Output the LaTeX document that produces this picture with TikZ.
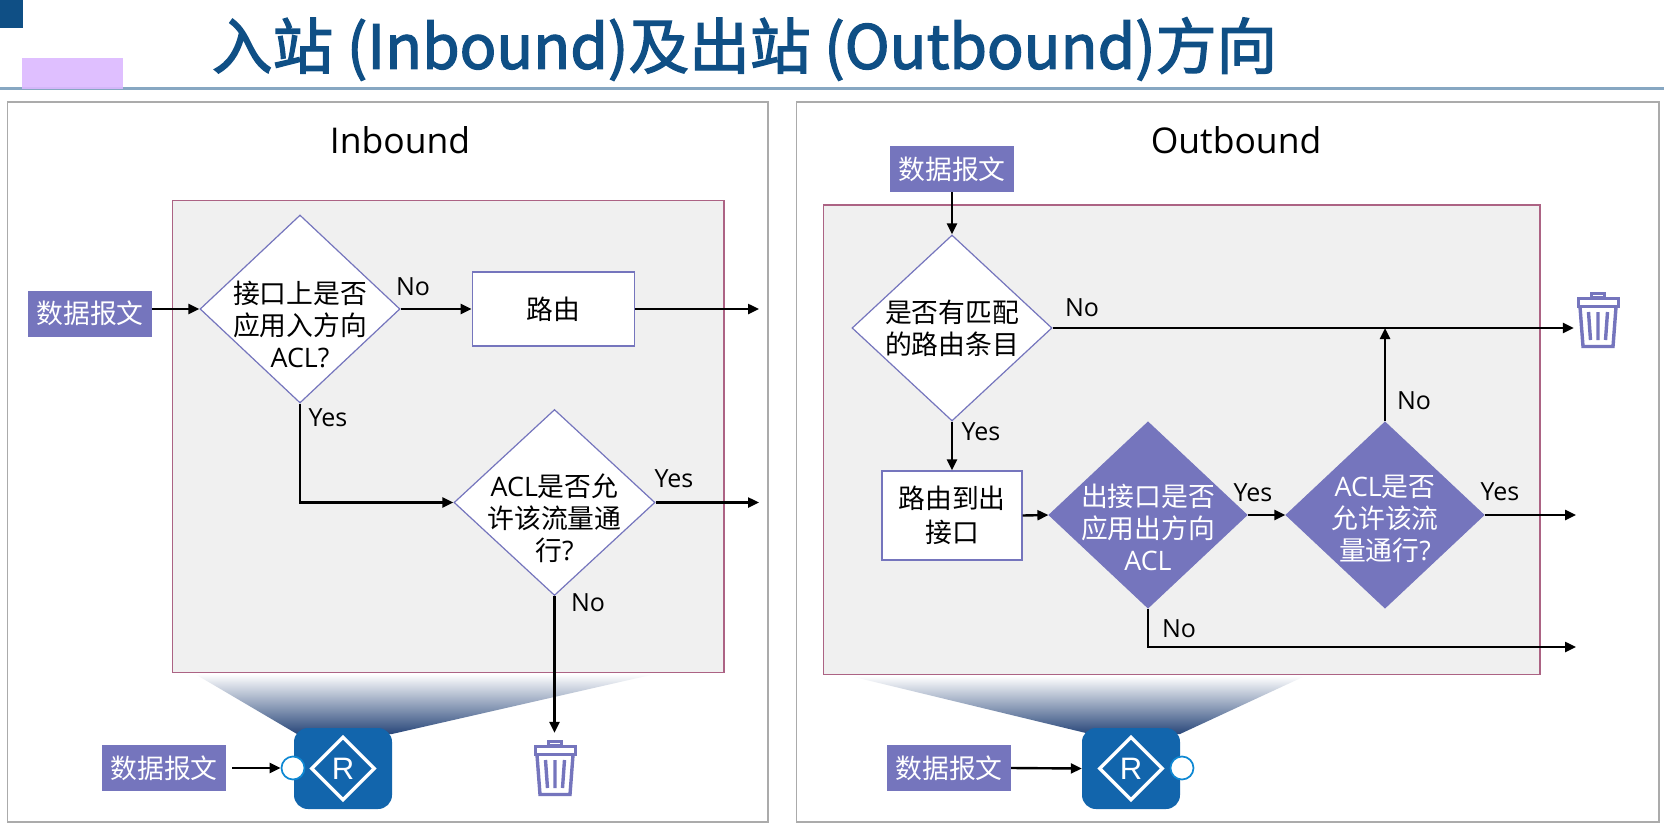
\documentclass[tikz,border=0pt]{standalone}
\usepackage{fontspec}
\usepackage{tikz}
\usepackage{xcolor}
\usetikzlibrary{positioning,arrows.meta,shapes.geometric}
\setmainfont{Open Sans}
\newfontfamily\cjk{Noto Sans CJK SC}
\newfontfamily\cjkm[FakeBold=2.2]{Noto Sans CJK SC}
\newfontfamily\arl{Liberation Sans}
\definecolor{navy}{HTML}{0F4F85}
\definecolor{lilac}{HTML}{7575BD}
\definecolor{edge}{HTML}{AC6384}
\definecolor{rblue}{HTML}{1265AC}
\definecolor{fdark}{HTML}{29477A}
\definecolor{tab}{HTML}{DCB8FF}
\definecolor{zonegray}{HTML}{F0F0F0}

\begin{document}
\begin{tikzpicture}[
  x=1pt, y=-1pt,
  font=\fontsize{25}{33}\selectfont,
  panel/.style={draw=black!33, line width=1.6pt, fill=white},
  zone/.style={draw=edge, line width=1.3pt, fill=zonegray},
  pkt/.style={fill=lilac, text=white, minimum width=124pt, minimum height=46pt,
              inner sep=0pt, font=\fontsize{26.8}{33}\selectfont\cjk},
  box/.style={draw=lilac, line width=1.2pt, fill=white, align=center, inner sep=0pt,
              font=\fontsize{26.8}{33.5}\selectfont\cjk},
  dec/.style={diamond, draw=lilac, line width=1.2pt, fill=white, inner sep=0pt},
  decfill/.style={dec, fill=lilac},
  lab/.style={align=center, inner sep=0pt, font=\fontsize{26.8}{32}\selectfont},
  to/.style={-{Triangle[length=11pt,width=10pt]}, line width=2.4pt},
  ttl/.style={font=\fontsize{35.5}{40}\selectfont},
  funnel/.style={top color=white, bottom color=fdark},
  rtr/.style={fill=rblue, rounded corners=14pt, minimum width=98pt, minimum height=81pt},
  rmark/.style={diamond, draw=white, line width=3.4pt, minimum width=64pt, minimum height=64pt,
                inner sep=0pt, text=white, font=\fontsize{31}{32}\selectfont\arl},
  port/.style={circle, draw=cyan!70!blue, line width=1.7pt, fill=white, minimum size=23pt, inner sep=0pt},
  binbox/.style={minimum width=44pt, minimum height=56pt, inner sep=0pt},
  trash/.pic={
    \draw[lilac, line width=3pt] (-6.5,-23) rectangle (6.5,-27);
    \draw[lilac, line width=3pt] (-20,-22) rectangle (20,-14);
    \draw[lilac, line width=3.4pt] (-18,-13) -- (-15,26.5) -- (15,26.5) -- (18,-13);
    \draw[lilac, line width=3.4pt] (-9.5,-8) -- (-7.5,20) (0,-8) -- (0,20) (9.5,-8) -- (7.5,20);
  }]

\useasboundingbox (0,0) rectangle (1664,830);

\fill[navy] (0,0) rectangle (23,28);
\draw[navy!50!white, line width=2.4pt] (0,88.5) -- (1664,88.5);
\fill[tab, opacity=.9] (22,58) rectangle (123,89);
\node[navy, font=\fontsize{60.7}{64}\selectfont\cjkm] (title) at (744.5,49)
  {入站 (Inbound)及出站 (Outbound)方向};

\draw[panel] (7.5,102) rectangle (768,822);
\draw[panel] (796.5,102) rectangle (1659,822);
\node[ttl] (ttl1) at (400,140) {Inbound};
\node[ttl] (ttl2) at (1236,140) {Outbound};

\draw[zone] (172.5,200.5) rectangle (724,672.5);
\draw[zone] (823.5,205) rectangle (1540,674.5);
\shade[funnel] (195,674) -- (655,674) -- (392,734) -- (297,734) -- cycle;
\shade[funnel] (850,676) -- (1305,676) -- (1180,734) -- (1090,734) -- cycle;

\node[pkt] (pkt1) at (90,313.5) {数据报文};
\node[dec, minimum width=200pt, minimum height=188pt,
      label={[lab,yshift=-15pt]center:{{\cjk 接口上是否}\\{\cjk 应用入方向}\\ACL?}}] (d1) at (300,309) {};
\node[box, right=71pt of d1, minimum width=162pt, minimum height=74pt] (route) {路由};
\node[dec, minimum width=201pt, minimum height=186pt,
      label={[lab,yshift=-16pt]center:{ACL{\cjk 是否允}\\{\cjk 许该流量通}\\{\cjk 行}?}}] (d2) at (554.5,502.5) {};
\coordinate (out1) at (759,309);
\coordinate (out2) at (759,502.5);
\node[binbox] (bin1) at (555,768) {};
\pic at (bin1) {trash};

\draw[to] (pkt1.east |- d1.west) -- (d1.west);
\draw[to] (d1.east) -- (route.west);
\draw[to] (route.east) -- (out1);
\draw[to] (d1.south) |- (d2.west);
\draw[to] (d2.east) -- (out2);
\draw[to, shorten >=7pt] (d2.south) -- (d2.south |- bin1.north);

\node (no1) at (413,287) {No};
\node (yes1) at (328,418) {Yes};
\node (yes2) at (674,479) {Yes};
\node (no2) at (588,603) {No};

\node[pkt] (pkt2) at (164,768) {数据报文};
\node[rtr] (rt1) at (343,768.5) {};
\node[rmark] (rm1) at (rt1) {R};
\node[port] (port1) at (293,768) {};
\draw[to, shorten <=6pt] (pkt2.east) -- (port1.west);

\node[pkt] (pkt3) at (952,169) {数据报文};
\node[dec, minimum width=200pt, minimum height=186pt,
      label={[lab]center:{{\cjk 是否有匹配}\\{\cjk 的路由条目}}}] (d3) at (952,328) {};
\node[box, minimum width=140pt, minimum height=89pt] (exit) at (952,515.5)
  {路由到出\\接口};
\node[decfill, minimum width=198pt, minimum height=186pt,
      label={[lab,text=white,yshift=-12pt]center:{{\cjk 出接口是否}\\{\cjk 应用出方向}\\ACL}}] (d4) at (1148,515) {};
\node[decfill, minimum width=198pt, minimum height=186pt,
      label={[lab,text=white,yshift=-4pt]center:{ACL{\cjk 是否}\\{\cjk 允许该流}\\{\cjk 量通行}?}}] (d5) at (1385,515) {};
\coordinate (out3) at (1576,515);
\coordinate (out4) at (1576,647);
\node[binbox] (bin2) at (1598,320) {};
\pic at (bin2) {trash};

\draw[to] (pkt3.south) -- (d3.north);
\draw[to] (d3.south) -- (exit.north);
\draw[to] (exit.east) -- (d4.west);
\draw[to] (d4.east) -- (d5.west);
\draw[to] (d5.east) -- (out3);
\draw[to] (d4.south) |- (out4);
\draw[to, shorten >=2pt] (d3.east) -- (d3.east -| bin2.west);
\draw[to] (d5.north) -- (d5.north |- d3.east);

\node (no3) at (1082,308) {No};
\node (yes3) at (981,432) {Yes};
\node (yes4) at (1253,493) {Yes};
\node (no4) at (1414,401) {No};
\node (yes5) at (1500,492) {Yes};
\node (no5) at (1179,629) {No};

\node[pkt] (pkt4) at (949,768) {数据报文};
\node[rtr] (rt2) at (1131,768.5) {};
\node[rmark] (rm2) at (rt2) {R};
\node[port] (port2) at (1182,768) {};
\draw[to] (pkt4.east) -- (rt2.west);
\end{tikzpicture}
\end{document}
